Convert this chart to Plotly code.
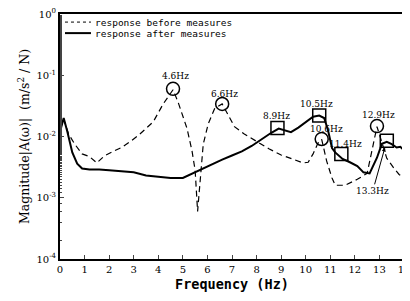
import math
import plotly.graph_objects as go

# ---- data ----
freq_before = [0, 0.15, 0.35, 0.6, 0.9, 1.2, 1.5, 1.8, 2.2, 2.5, 2.9, 3.2, 3.5, 3.8, 4.2, 4.6,
               4.8, 5.0, 5.17, 5.37, 5.5, 5.6, 5.83, 6.03, 6.3, 6.6, 6.85, 7.1, 7.5, 8.0, 8.5,
               9.0, 9.5, 9.9, 10.1, 10.3, 10.5, 10.65, 10.85, 11.07, 11.2, 11.6, 12.1, 12.5,
               12.7, 12.9, 13.1, 13.3, 13.6, 13.8, 14.0]
mag_before = [0.013, 0.019, 0.011, 0.0075, 0.0052, 0.0047, 0.0037, 0.0048, 0.0058, 0.0066,
              0.0085, 0.0105, 0.0135, 0.0175, 0.034, 0.058, 0.037, 0.022, 0.0135, 0.0059,
              0.0028, 0.0006, 0.0075, 0.016, 0.029, 0.034, 0.022, 0.0145, 0.011, 0.0082,
              0.0063, 0.005, 0.0042, 0.0037, 0.0038, 0.0052, 0.0078, 0.009, 0.004, 0.0021,
              0.0016, 0.0016, 0.002, 0.0025, 0.006, 0.0145, 0.008, 0.0044, 0.003, 0.0024,
              0.0021]

freq_after = [0, 0.15, 0.3, 0.5, 0.7, 0.9, 1.2, 1.6, 2.0, 2.5, 3.0, 3.5, 4.0, 4.5, 5.0,
              5.4, 5.8, 6.2, 6.6, 7.0, 7.4, 7.8, 8.2, 8.6, 8.9, 9.2, 9.4, 9.7, 10.0, 10.3,
              10.55, 10.75, 10.9, 11.07, 11.2, 11.5, 11.8, 12.1, 12.35, 12.6, 12.9, 13.1,
              13.3, 13.5, 13.7, 13.85, 14.0]
mag_after = [0.012, 0.02, 0.012, 0.0055, 0.0036, 0.003, 0.0029, 0.0029, 0.0028, 0.0027,
             0.0026, 0.0023, 0.0022, 0.0021, 0.0021, 0.0025, 0.003, 0.0036, 0.0042, 0.0049,
             0.0057, 0.007, 0.009, 0.0115, 0.0135, 0.0125, 0.0118, 0.014, 0.017, 0.021,
             0.022, 0.02, 0.013, 0.0065, 0.0055, 0.0043, 0.0038, 0.0033, 0.0026, 0.0025,
             0.0045, 0.0076, 0.0082, 0.0075, 0.0066, 0.0068, 0.006]

circle_freqs = [4.6, 6.6, 10.65, 12.9]
circle_mags = [0.06, 0.034, 0.0091, 0.0148]
square_freqs = [8.85, 10.55, 11.45, 13.3]
square_mags = [0.0138, 0.022, 0.0052, 0.0085]

label_texts = ["4.6Hz", "6.6Hz", "8.9Hz", "10.5Hz", "10.6Hz", "11.4Hz", "12.9Hz"]
label_x = [4.72, 6.7, 8.8, 10.45, 10.85, 11.6, 12.95]
label_mag = [0.096, 0.05, 0.0214, 0.034, 0.0132, 0.0076, 0.0224]

arrow_text = "13.3Hz"
arrow_x = 13.3
arrow_mag = 0.0085

legend_names = ["response before measures", "response after measures"]

x_ticks = list(range(0, 15))
y_tickvals = [1e-4, 1e-3, 1e-2, 1e-1, 1]
y_ticktext = ["10<sup>-4</sup>", "10<sup>-3</sup>", "10<sup>-2</sup>", "10<sup>-1</sup>", "10<sup>0</sup>"]

SERIF = "DejaVu Serif"
MONO = "DejaVu Sans Mono"

fig = go.Figure()
fig.add_trace(go.Scatter(x=freq_before, y=mag_before, mode="lines",
                         line=dict(color="black", width=1.2, dash="6px,4px"),
                         showlegend=False))
fig.add_trace(go.Scatter(x=freq_after, y=mag_after, mode="lines",
                         line=dict(color="black", width=2),
                         showlegend=False))
fig.add_trace(go.Scatter(x=circle_freqs, y=circle_mags, mode="markers",
                         marker=dict(symbol="circle-open", size=13, color="black",
                                     line=dict(width=1.5, color="black")),
                         showlegend=False))
fig.add_trace(go.Scatter(x=square_freqs, y=square_mags, mode="markers",
                         marker=dict(symbol="square-open", size=13, color="black",
                                     line=dict(width=1.5, color="black")),
                         showlegend=False))

for t, x, m in zip(label_texts, label_x, label_mag):
    fig.add_annotation(x=x, y=math.log10(m), text=t, showarrow=False,
                       font=dict(family=SERIF, size=9, color="black"))

fig.add_annotation(x=arrow_x, y=math.log10(arrow_mag), text=arrow_text, showarrow=True,
                   ax=-14, ay=50, arrowhead=2, arrowsize=0.8, arrowwidth=1,
                   arrowcolor="black", standoff=7,
                   font=dict(family=SERIF, size=9, color="black"))

# hand-made legend (paper coordinates)
legend_rows_y = [0.967, 0.922]
legend_dash = ["dot", "solid"]
legend_width = [1, 2]
for name, yy, d, w in zip(legend_names, legend_rows_y, legend_dash, legend_width):
    fig.add_shape(type="line", xref="paper", yref="paper", x0=0.0145, x1=0.09, y0=yy, y1=yy,
                  line=dict(color="black", width=w, dash=d))
    fig.add_annotation(xref="paper", yref="paper", x=0.097, y=yy, text=name,
                       xanchor="left", yanchor="middle", showarrow=False,
                       font=dict(family=MONO, size=9.5, color="black"))

# page body has an 8px margin: size/margins compensate for it
fig.update_layout(
    width=402, height=293,
    margin=dict(l=52, r=6, t=6, b=42, autoexpand=False),
    paper_bgcolor="white", plot_bgcolor="white",
    font=dict(family=SERIF, color="black", size=10),
    showlegend=False,
)
fig.update_xaxes(range=[0, 14], tickvals=x_ticks, ticks="inside", ticklen=4,
                 showline=True, linecolor="black", linewidth=2, mirror=True,
                 showgrid=False, zeroline=False, automargin=False,
                 ticklabeloverflow="allow",
                 tickfont=dict(family=SERIF, size=10),
                 title=dict(text="<b>Frequency (Hz)</b>", font=dict(family=MONO, size=13.5),
                            standoff=6))
fig.update_yaxes(type="log", range=[-4, 0], tickvals=y_tickvals, ticktext=y_ticktext,
                 ticks="inside", ticklen=4,
                 minor=dict(ticks="inside", ticklen=2, showgrid=False),
                 showline=True, linecolor="black", linewidth=2, mirror=True,
                 showgrid=False, zeroline=False, automargin=False,
                 ticklabeloverflow="allow",
                 tickfont=dict(family=SERIF, size=10),
                 title=dict(text="Magnitude|A(ω)|  (m/s<sup>2</sup> / N)",
                            font=dict(family=SERIF, size=12.5), standoff=4))

fig.write_html("out.html")
